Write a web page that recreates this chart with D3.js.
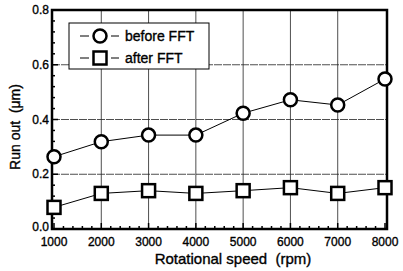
<html>
<script src="https://d3js.org/d3.v7.min.js"></script>
<style>
  body { margin: 0; background: #fff; }
  text { font-family: Arial, "Liberation Sans", sans-serif; fill: #000; stroke: #000; stroke-width: 0.35; }
</style>
<body>
<svg width="403" height="271"></svg>
<script>
// chart values
var speeds = [1000, 2000, 3000, 4000, 5000, 6000, 7000, 8000];
var beforeFFT = [0.264, 0.319, 0.343, 0.343, 0.423, 0.472, 0.453, 0.548];
var afterFFT = [0.079, 0.130, 0.140, 0.130, 0.140, 0.151, 0.130, 0.151];
var yTicks = [0.0, 0.2, 0.4, 0.6, 0.8];
var seriesNames = ["before FFT", "after FFT"];

var svg = d3.select("svg");

var x = d3.scaleLinear().domain([1000, 8000]).range([54, 385]);
var y = d3.scaleLinear().domain([0, 0.8]).range([229, 10]);

// grid
var grid = svg.append("g").attr("stroke", "#222").attr("stroke-width", 0.8);
grid.selectAll("line.v").data(speeds.slice(1, -1)).enter().append("line")
  .attr("x1", d => x(d)).attr("x2", d => x(d))
  .attr("y1", y(0)).attr("y2", y(0.8));
grid.selectAll("line.h").data(yTicks.slice(1, -1)).enter().append("line")
  .attr("x1", x(1000) - 2).attr("x2", x(8000) + 2)
  .attr("y1", d => y(d)).attr("y2", d => y(d))
  .attr("stroke-dasharray", "8,1");

// minor ticks, inward
var xMinor = d3.range(1000, 8001, 200);
svg.append("g").selectAll("line").data(xMinor).enter().append("line")
  .attr("x1", d => x(d)).attr("x2", d => x(d))
  .attr("y1", y(0)).attr("y2", d => y(0) - (d % 1000 == 0 ? 6 : 3))
  .attr("stroke", "#000").attr("stroke-width", 1.5);
var yMinor = d3.range(0, 0.801, 0.04);
svg.append("g").selectAll("line").data(yMinor).enter().append("line")
  .attr("x1", x(1000) - 2).attr("x2", d => x(1000) - 2 + (Math.round(d * 100) % 20 == 0 ? 6 : 3))
  .attr("y1", d => y(d)).attr("y2", d => y(d))
  .attr("stroke", "#000").attr("stroke-width", 1.5);

// frame
svg.append("rect")
  .attr("x", x(1000) - 2).attr("y", y(0.8))
  .attr("width", x(8000) - x(1000) + 4).attr("height", y(0) - y(0.8))
  .attr("fill", "none").attr("stroke", "#000").attr("stroke-width", 2.5);

// tick labels
svg.append("g").selectAll("text").data(yTicks).enter().append("text")
  .attr("x", 49).attr("y", d => y(d) + (d == 0 ? 2 : 4))
  .attr("text-anchor", "end").attr("font-size", 12)
  .text(d => d.toFixed(1));
svg.append("g").selectAll("text").data(speeds).enter().append("text")
  .attr("x", d => x(d)).attr("y", 246)
  .attr("text-anchor", "middle").attr("font-size", 12)
  .text(d => d);

// axis titles
svg.append("text").attr("x", 233).attr("y", 264)
  .attr("text-anchor", "middle").attr("font-size", 15)
  .attr("xml:space", "preserve")
  .text("Rotational speed  (rpm)");
svg.append("text").attr("transform", "translate(20,127) rotate(-90)")
  .attr("text-anchor", "middle").attr("font-size", 14)
  .attr("xml:space", "preserve")
  .text("Run out  (μm)");

// series
var line = d3.line().x((d, i) => x(speeds[i])).y(d => y(d));
[beforeFFT, afterFFT].forEach(function(vals) {
  svg.append("path").attr("d", line(vals))
    .attr("fill", "none").attr("stroke", "#000").attr("stroke-width", 1);
});
svg.append("g").selectAll("circle").data(beforeFFT).enter().append("circle")
  .attr("cx", (d, i) => x(speeds[i])).attr("cy", d => y(d)).attr("r", 6.5)
  .attr("fill", "#fff").attr("stroke", "#000").attr("stroke-width", 2.5);
svg.append("g").selectAll("rect").data(afterFFT).enter().append("rect")
  .attr("x", (d, i) => x(speeds[i]) - 6.5).attr("y", d => y(d) - 6.5)
  .attr("width", 13).attr("height", 13)
  .attr("fill", "#fff").attr("stroke", "#000").attr("stroke-width", 2.5);

// legend
var lg = svg.append("g");
lg.append("rect").attr("x", 69).attr("y", 23).attr("width", 140).attr("height", 46)
  .attr("fill", "#fff").attr("stroke", "#000").attr("stroke-width", 1);
seriesNames.forEach(function(name, i) {
  var ly = 36 + i * 22;
  lg.append("line").attr("x1", 80).attr("x2", 89).attr("y1", ly).attr("y2", ly).attr("stroke", "#000");
  lg.append("line").attr("x1", 111).attr("x2", 119).attr("y1", ly).attr("y2", ly).attr("stroke", "#000");
  if (i == 0) {
    lg.append("circle").attr("cx", 100).attr("cy", ly).attr("r", 6.5)
      .attr("fill", "#fff").attr("stroke", "#000").attr("stroke-width", 2.5);
  } else {
    lg.append("rect").attr("x", 93.5).attr("y", ly - 6.5).attr("width", 13).attr("height", 13)
      .attr("fill", "#fff").attr("stroke", "#000").attr("stroke-width", 2.5);
  }
  lg.append("text").attr("x", 125).attr("y", ly + 5).attr("font-size", 14)
    .text(name);
});
</script>
</body>
</html>
